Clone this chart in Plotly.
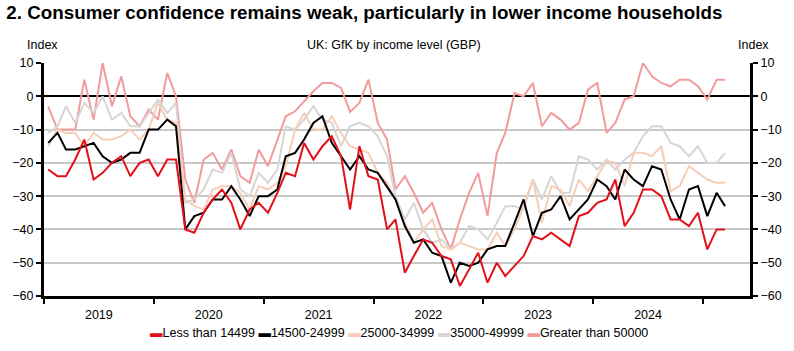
import pandas as pd
import plotly.graph_objects as go

# Monthly, Jan 2019 .. Mar 2025
months = pd.date_range("2019-01-01", periods=75, freq="MS") + pd.Timedelta(days=14)

names = ["Less than 14499", "14500-24999", "25000-34999", "35000-49999", "Greater than 50000"]

less_14499 = [-22, -24, -24, -19, -13, -25, -23, -20, -18, -24, -20, -19,
              -24, -19, -19, -40, -41, -35, -31, -28, -32, -40, -34, -32,
              -35, -29, -23, -24, -14, -19, -15, -12, -18, -34, -15, -24,
              -25, -40, -37, -53, -48, -43, -44, -48, -49, -57, -52, -47,
              -56, -50, -54, -51, -48, -42, -43, -41, -43, -45, -36, -35,
              -32, -31, -25, -39, -35, -28, -28, -30, -37, -37, -39, -35,
              -46, -40, -40]

inc_14500_24999 = [-14, -11, -16, -16, -15, -14, -18, -20, -19, -17, -17, -10,
                   -10, -7, -9, -40, -36, -35, -31, -31, -27, -31, -36, -30,
                   -30, -28, -18, -17, -13, -8, -6, -14, -18, -22, -18, -22,
                   -23, -27, -31, -39, -44, -43, -47, -48, -56, -50, -51, -50,
                   -46, -45, -45, -38, -31, -42, -35, -34, -30, -37, -34, -31,
                   -25, -27, -31, -22, -25, -27, -21, -22, -31, -37, -28, -27,
                   -36, -29, -33]

inc_25000_34999 = [-15, -10, -11, -11, -15, -11, -13, -13, -12, -10, -13, -10,
                   -2, -7, -8, -31, -33, -34, -28, -27, -27, -29, -34, -27,
                   -28, -26, -21, -10, -5, -10, -10, -6, -11, -15, -16, -17,
                   -23, -26, -31, -38, -44, -40, -37, -45, -46, -44, -45, -46,
                   -46, -41, -45, -40, -33, -25, -38, -27, -28, -33, -25, -28.5,
                   -24, -19.5, -20, -27, -17, -17, -18, -15, -28.5, -27, -21, -23,
                   -25, -26, -26]

inc_35000_49999 = [-11, -9, -3, -8, -2, -5, 0, -7, -5, -9, -9, -5,
                   -1, -5, -2, -32, -31, -28, -22, -23, -17, -28, -30, -23,
                   -26, -22, -9, -10, -7, -3, -7, -8, -15, -9, -8, -9,
                   -12, -18, -30, -37, -32, -40, -44, -43, -46, -44, -39, -40,
                   -43, -38, -33, -33, -34, -25, -31, -24, -29, -29, -18, -19,
                   -22, -19, -22, -19, -17, -12, -9, -9, -14, -15, -18, -15,
                   -20, -20, -17]

greater_50000 = [-3, -10, -10, -10, 5, -7, 10, -3, 6, -6, -9, -4,
                 -7, 7, 0, -25, -32, -19, -17, -22, -16, -24, -26, -16,
                 -21, -13, -6, -4.5, -1.5, 1.5, 4, 4, 2.5, -4.7, -2, 5,
                 -8, -13, -28, -24, -29, -35, -32, -40, -46, -37, -29, -23,
                 -36, -17, -11, 1, 0, 4, -9, -5, -7, -10, -8, 2,
                 4, -11, -8, -1, 0, 10, 6, 4, 3, 5, 5, 3,
                 -1, 5, 5]

series = [less_14499, inc_14500_24999, inc_25000_34999, inc_35000_49999, greater_50000]
colors = ["#e3101a", "#000000", "#f6cdb8", "#d6d6d6", "#f29a9c"]

fig = go.Figure()
# draw back-to-front
for k in [4, 3, 2, 1, 0]:
    fig.add_trace(go.Scatter(x=months, y=series[k], name=names[k], mode="lines",
                             line=dict(color=colors[k], width=2), showlegend=False))
# invisible trace for the right-hand axis
fig.add_trace(go.Scatter(x=months, y=series[0], yaxis="y2", mode="lines",
                         line=dict(color="rgba(0,0,0,0)", width=0), showlegend=False,
                         hoverinfo="skip"))

font_main = "Liberation Sans, Arial, sans-serif"
fsize = 12.5

yax = dict(range=[-60, 10], dtick=10, tick0=-60, showgrid=True, gridcolor="#c8c8c8",
           gridwidth=2, zeroline=True, zerolinecolor="#000000", zerolinewidth=2,
           showline=True, linecolor="#000000", linewidth=3, ticks="outside",
           ticklen=5, tickwidth=2, tickcolor="#000000",
           tickfont=dict(family=font_main, size=fsize, color="#000000"))

fig.update_layout(
    width=794, height=351,
    margin=dict(l=37, r=39, t=63, b=55),
    paper_bgcolor="white", plot_bgcolor="white",
    title=dict(text="<b>2. Consumer confidence remains weak, particularly in lower income households</b>",
               x=0.008, xref="container", xanchor="left", y=1, yref="container", yanchor="top",
               pad=dict(t=6, l=0), font=dict(family=font_main, size=18.8, color="#000000")),
    xaxis=dict(type="date", range=["2019-01-01", "2025-06-06"], dtick="M12", tick0="2019-01-01",
               ticklabelmode="period", tickformat="%Y", showgrid=False, showline=True,
               linecolor="#000000", linewidth=3, ticks="outside", ticklen=5, tickwidth=2,
               tickcolor="#000000", tickfont=dict(family=font_main, size=fsize, color="#000000")),
    yaxis=yax,
    yaxis2=dict(yax, overlaying="y", side="right", showgrid=False, zeroline=False),
    showlegend=False,
)

# legend row (text built from the series names and colours)
legend_text = " ".join(f"<span style='color:{c}'>▬</span>{n}" for n, c in zip(names, colors))
fig.add_annotation(text=legend_text, xref="paper", yref="paper", x=0.503, y=-0.159,
                   xanchor="center", yanchor="middle", showarrow=False,
                   font=dict(family=font_main, size=fsize, color="#000000"))

for txt, xp in [("Index", -0.002), ("Index", 1.0056), ("UK: GfK by income level (GBP)", 0.496)]:
    fig.add_annotation(text=txt, xref="paper", yref="paper", x=xp, y=1.077,
                       xanchor="center", yanchor="middle", showarrow=False,
                       font=dict(family=font_main, size=fsize, color="#000000"))

fig.write_html("out.html")
